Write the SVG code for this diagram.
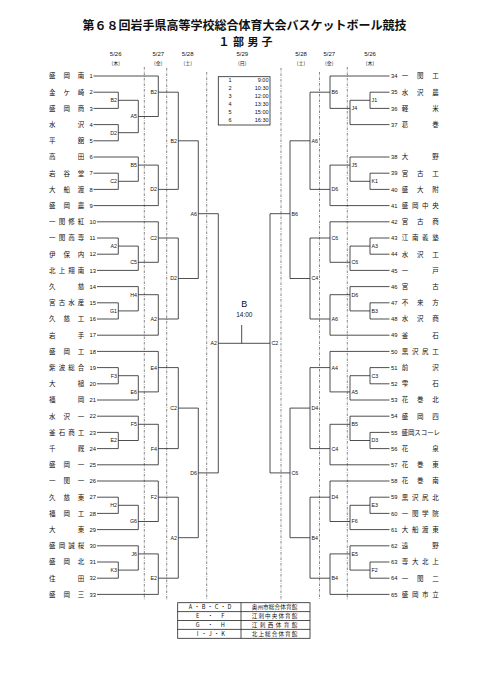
<svg xmlns="http://www.w3.org/2000/svg" width="481" height="680" viewBox="0 0 481 680">
<style>
.ln{fill:none;stroke:#222;stroke-width:0.8}
.dd{fill:none;stroke:#333;stroke-width:0.6;stroke-dasharray:2.5 1.2 0.6 1.2}
.bx{fill:#fff;stroke:#222;stroke-width:0.8}
text{font-family:'Liberation Sans','Noto Sans CJK JP',sans-serif;fill:#111}
.ti{font-family:'Noto Sans CJK JP',sans-serif;font-weight:bold;font-size:12px;text-anchor:middle}
.st{font-family:'Noto Sans CJK JP',sans-serif;font-weight:bold;font-size:11px;text-anchor:middle}
.dt{font-size:6px;text-anchor:middle}
.dw{font-size:5px;text-anchor:middle;font-family:'Noto Sans CJK JP',sans-serif}
.tn{font-size:6.5px;text-anchor:middle;font-family:'Noto Sans CJK JP',sans-serif}
.no{font-size:5.8px}
.lb{font-size:5.3px}
.le{text-anchor:end}
.sc{font-size:5.5px}
.lg{font-size:5.6px;text-anchor:middle;font-family:'Noto Sans CJK JP',sans-serif}
</style>

<g id="header">
<text class="ti" x="244.5" y="29.5" textLength="324" lengthAdjust="spacingAndGlyphs">第６８回岩手県高等学校総合体育大会バスケットボール競技</text>
<text class="st" x="224 238.5 253 267" y="45.5">１部男子</text>
<text class="dt" x="115.7" y="55.5">5/26</text><text class="dw" x="115.7" y="65.3">(木)</text>
<text class="dt" x="158.3" y="55.5">5/27</text><text class="dw" x="158.3" y="65.3">(金)</text>
<text class="dt" x="187.7" y="55.5">5/28</text><text class="dw" x="187.7" y="65.3">(土)</text>
<text class="dt" x="242.3" y="55.5">5/29</text><text class="dw" x="242.3" y="65.3">(日)</text>
<text class="dt" x="301" y="55.5">5/28</text><text class="dw" x="301" y="65.3">(土)</text>
<text class="dt" x="329.3" y="55.5">5/27</text><text class="dw" x="329.3" y="65.3">(金)</text>
<text class="dt" x="370" y="55.5">5/26</text><text class="dw" x="370" y="65.3">(木)</text>
</g>

<g id="day-dividers">
<path class="dd" d="M144.3 67V600M166.7 68V600M206.7 72V600M281 68V600M319.5 72V600M347.3 67V600"/>
</g>

<g id="schedule">
<rect class="bx" x="218.3" y="76.7" width="51.7" height="48.3"/>
<g class="sc">
<text x="230" y="82" text-anchor="middle">1</text><text x="268.5" y="82" text-anchor="end">9:00</text>
<text x="230" y="90" text-anchor="middle">2</text><text x="268.5" y="90" text-anchor="end">10:30</text>
<text x="230" y="98" text-anchor="middle">3</text><text x="268.5" y="98" text-anchor="end">12:00</text>
<text x="230" y="106" text-anchor="middle">4</text><text x="268.5" y="106" text-anchor="end">13:30</text>
<text x="230" y="114" text-anchor="middle">5</text><text x="268.5" y="114" text-anchor="end">15:00</text>
<text x="230" y="122" text-anchor="middle">6</text><text x="268.5" y="122" text-anchor="end">16:30</text>
</g>
</g>

<g id="final">
<text x="244.3" y="306.5" font-size="9" text-anchor="middle">B</text>
<text x="244.3" y="316.5" font-size="6.5" text-anchor="middle">14:00</text>
</g>

<g id="connectors">
<path class="ln" d="M93.5 76H158.3M93.5 92.2H118.3M93.5 108.4H118.3M93.5 124.6H118.3M93.5 140.8H118.3M93.5 157H138.3M93.5 173.2H118.3M93.5 189.4H118.3M93.5 205.6H158.3M97 221.8H158.3M97 238H118.3M97 254.2H118.3M97 270.4H138.3M97 286.6H138.3M97 302.8H118.3M97 319H118.3M97 335.2H158.3M97 351.4H158.3M97 367.6H118.3M97 383.8H118.3M97 400H138.3M97 416.2H138.3M97 432.4H118.3M97 448.6H118.3M97 464.8H158.3M97 481H158.3M97 497.2H118.3M97 513.4H118.3M97 529.6H138.3M97 545.8H138.3M97 562H118.3M97 578.2H118.3M97 594.4H158.3"/>
<path class="ln" d="M330 76H389.5M370 92.2H389.5M370 108.4H389.5M350 124.6H389.5M350 157H389.5M370 173.2H389.5M370 189.4H389.5M330 205.6H389.5M330 221.8H389.5M370 238H389.5M370 254.2H389.5M350 270.4H389.5M350 286.6H389.5M370 302.8H389.5M370 319H389.5M330 335.2H389.5M330 351.4H389.5M370 367.6H389.5M370 383.8H389.5M350 400H389.5M350 416.2H389.5M370 432.4H389.5M370 448.6H389.5M330 464.8H389.5M330 481H389.5M370 497.2H389.5M370 513.4H389.5M350 529.6H389.5M350 545.8H389.5M370 562H389.5M370 578.2H389.5M330 594.4H389.5"/>
<path class="ln" d="M118.3 92.2V108.4M118.3 100.3H138.3M118.3 124.6V140.8M118.3 132.7H138.3M118.3 173.2V189.4M118.3 181.3H138.3M118.3 238V254.2M118.3 246.1H138.3M118.3 302.8V319M118.3 310.9H138.3M118.3 367.6V383.8M118.3 375.7H138.3M118.3 432.4V448.6M118.3 440.5H138.3M118.3 497.2V513.4M118.3 505.3H138.3M118.3 562V578.2M118.3 570.1H138.3"/>
<path class="ln" d="M138.3 100.3V132.7M138.3 116.5H158.3M138.3 157V181.3M138.3 165.1H158.3M138.3 246.1V270.4M138.3 262.3H158.3M138.3 286.6V310.9M138.3 294.7H158.3M138.3 375.7V400M138.3 391.9H158.3M138.3 416.2V440.5M138.3 424.3H158.3M138.3 505.3V529.6M138.3 521.5H158.3M138.3 545.8V570.1M138.3 553.9H158.3"/>
<path class="ln" d="M158.3 76V116.5M158.3 92.2H178.3M158.3 165.1V205.6M158.3 189.4H178.3M158.3 221.8V262.3M158.3 238H178.3M158.3 294.7V335.2M158.3 319H178.3M158.3 351.4V391.9M158.3 367.6H178.3M158.3 424.3V464.8M158.3 448.6H178.3M158.3 481V521.5M158.3 497.2H178.3M158.3 553.9V594.4M158.3 578.2H178.3"/>
<path class="ln" d="M178.3 92.2V189.4M178.3 140.8H198.3M178.3 238V319M178.3 278.5H198.3M178.3 367.6V448.6M178.3 408.1H198.3M178.3 497.2V578.2M178.3 537.7H198.3"/>
<path class="ln" d="M198.3 140.8V278.5M198.3 213.7H218.3M198.3 408.1V537.7M198.3 472.9H218.3M218.3 213.7V472.9M218.3 343.3H270M241.7 325V343.3"/>
<path class="ln" d="M370 92.2V108.4M370 100.3H350M370 173.2V189.4M370 181.3H350M370 238V254.2M370 246.1H350M370 302.8V319M370 310.9H350M370 367.6V383.8M370 375.7H350M370 432.4V448.6M370 440.5H350M370 497.2V513.4M370 505.3H350M370 562V578.2M370 570.1H350"/>
<path class="ln" d="M350 100.3V124.6M350 108.4H330M350 157V181.3M350 165.1H330M350 246.1V270.4M350 262.3H330M350 286.6V310.9M350 294.7H330M350 375.7V400M350 391.9H330M350 416.2V440.5M350 424.3H330M350 505.3V529.6M350 521.5H330M350 545.8V570.1M350 553.9H330"/>
<path class="ln" d="M330 76V108.4M330 92.2H310M330 165.1V205.6M330 189.4H310M330 221.8V262.3M330 238H310M330 294.7V335.2M330 319H310M330 351.4V391.9M330 367.6H310M330 424.3V464.8M330 448.6H310M330 481V521.5M330 497.2H310M330 553.9V594.4M330 578.2H310"/>
<path class="ln" d="M310 92.2V189.4M310 140.8H290M310 238V319M310 278.5H290M310 367.6V448.6M310 408.1H290M310 497.2V578.2M310 537.7H290"/>
<path class="ln" d="M290 140.8V278.5M290 213.7H270M290 408.1V537.7M290 472.9H270M270 213.7V472.9"/>
</g>

<g id="match-labels-left" class="lb le">
<g id="mL1"><text x="117" y="102.2">B2</text><text x="117" y="134.6">D2</text><text x="117" y="183.2">C2</text><text x="117" y="248">A2</text><text x="117" y="312.8">G1</text><text x="117" y="377.6">F3</text><text x="117" y="442.4">E2</text><text x="117" y="507.2">H2</text><text x="117" y="572">K3</text></g>
<g id="mL2"><text x="137" y="118.4">A5</text><text x="137" y="167">B5</text><text x="137" y="264.2">C5</text><text x="137" y="296.6">H4</text><text x="137" y="393.8">E6</text><text x="137" y="426.2">F5</text><text x="137" y="523.4">G6</text><text x="137" y="555.8">J6</text></g>
<g id="mL3"><text x="157" y="94.1">B2</text><text x="157" y="191.3">D2</text><text x="157" y="239.9">C2</text><text x="157" y="320.9">A2</text><text x="157" y="369.5">E4</text><text x="157" y="450.5">F4</text><text x="157" y="499.1">F2</text><text x="157" y="580.1">E2</text></g>
<g id="mL4"><text x="177" y="142.7">B2</text><text x="177" y="280.4">D2</text><text x="177" y="410">C2</text><text x="177" y="539.6">A2</text></g>
<g id="mL5"><text x="197" y="215.6">A6</text><text x="197" y="474.8">D6</text></g>
<g id="mL6"><text x="217" y="345.2">A2</text></g>
</g>

<g id="match-labels-right" class="lb">
<g id="mR1"><text x="371.5" y="102.2">J1</text><text x="371.5" y="183.2">K1</text><text x="371.5" y="248">A3</text><text x="371.5" y="312.8">B3</text><text x="371.5" y="377.6">C3</text><text x="371.5" y="442.4">D3</text><text x="371.5" y="507.2">E3</text><text x="371.5" y="572">F2</text></g>
<g id="mR2"><text x="351.5" y="110.3">J4</text><text x="351.5" y="167">J5</text><text x="351.5" y="264.2">C6</text><text x="351.5" y="296.6">D6</text><text x="351.5" y="393.8">A5</text><text x="351.5" y="426.2">B5</text><text x="351.5" y="523.4">F6</text><text x="351.5" y="555.8">E5</text></g>
<g id="mR3"><text x="331.5" y="94.1">B6</text><text x="331.5" y="191.3">D6</text><text x="331.5" y="239.9">C6</text><text x="331.5" y="320.9">A6</text><text x="331.5" y="369.5">A4</text><text x="331.5" y="450.5">C4</text><text x="331.5" y="499.1">D4</text><text x="331.5" y="580.1">B4</text></g>
<g id="mR4"><text x="311.5" y="142.7">A6</text><text x="311.5" y="280.4">C4</text><text x="311.5" y="410">D4</text><text x="311.5" y="539.6">B4</text></g>
<g id="mR5"><text x="291.5" y="215.6">B6</text><text x="291.5" y="474.8">C6</text></g>
<g id="mR6"><text x="271.5" y="345.2">C2</text></g>
</g>

<g id="teams-left">
<g id="t1"><text class="tn" x="52.3 66.7 81" y="78.3">盛岡南</text><text class="no" x="89.5" y="78.1">1</text></g>
<g id="t2"><text class="tn" x="52.3 66.7 81" y="94.5">金ケ崎</text><text class="no" x="89.5" y="94.3">2</text></g>
<g id="t3"><text class="tn" x="52.3 66.7 81" y="110.7">盛岡商</text><text class="no" x="89.5" y="110.5">3</text></g>
<g id="t4"><text class="tn" x="52.3 81" y="126.9">水沢</text><text class="no" x="89.5" y="126.7">4</text></g>
<g id="t5"><text class="tn" x="52.3 81" y="143.1">平舘</text><text class="no" x="89.5" y="142.9">5</text></g>
<g id="t6"><text class="tn" x="52.3 81" y="159.3">高田</text><text class="no" x="89.5" y="159.1">6</text></g>
<g id="t7"><text class="tn" x="52.3 66.7 81" y="175.5">岩谷堂</text><text class="no" x="89.5" y="175.3">7</text></g>
<g id="t8"><text class="tn" x="52.3 66.7 81" y="191.7">大船渡</text><text class="no" x="89.5" y="191.5">8</text></g>
<g id="t9"><text class="tn" x="52.3 66.7 81" y="207.9">盛岡農</text><text class="no" x="89.5" y="207.7">9</text></g>
<g id="t10"><text class="tn" x="52.3 61.9 71.4 81" y="224.1">一関修紅</text><text class="no" x="89.5" y="223.9">10</text></g>
<g id="t11"><text class="tn" x="52.3 61.9 71.4 81" y="240.3">一関高専</text><text class="no" x="89.5" y="240.1">11</text></g>
<g id="t12"><text class="tn" x="52.3 66.7 81" y="256.5">伊保内</text><text class="no" x="89.5" y="256.3">12</text></g>
<g id="t13"><text class="tn" x="52.3 61.9 71.4 81" y="272.7">北上翔南</text><text class="no" x="89.5" y="272.5">13</text></g>
<g id="t14"><text class="tn" x="52.3 81" y="288.9">久慈</text><text class="no" x="89.5" y="288.7">14</text></g>
<g id="t15"><text class="tn" x="52.3 61.9 71.4 81" y="305.1">宮古水産</text><text class="no" x="89.5" y="304.9">15</text></g>
<g id="t16"><text class="tn" x="52.3 66.7 81" y="321.3">久慈工</text><text class="no" x="89.5" y="321.1">16</text></g>
<g id="t17"><text class="tn" x="52.3 81" y="337.5">岩手</text><text class="no" x="89.5" y="337.3">17</text></g>
<g id="t18"><text class="tn" x="52.3 66.7 81" y="353.7">盛岡工</text><text class="no" x="89.5" y="353.5">18</text></g>
<g id="t19"><text class="tn" x="52.3 61.9 71.4 81" y="369.9">紫波総合</text><text class="no" x="89.5" y="369.7">19</text></g>
<g id="t20"><text class="tn" x="52.3 81" y="386.1">大槌</text><text class="no" x="89.5" y="385.9">20</text></g>
<g id="t21"><text class="tn" x="52.3 81" y="402.3">福岡</text><text class="no" x="89.5" y="402.1">21</text></g>
<g id="t22"><text class="tn" x="52.3 66.7 81" y="418.5">水沢一</text><text class="no" x="89.5" y="418.3">22</text></g>
<g id="t23"><text class="tn" x="52.3 61.9 71.4 81" y="434.7">釜石商工</text><text class="no" x="89.5" y="434.5">23</text></g>
<g id="t24"><text class="tn" x="52.3 81" y="450.9">千厩</text><text class="no" x="89.5" y="450.7">24</text></g>
<g id="t25"><text class="tn" x="52.3 66.7 81" y="467.1">盛岡一</text><text class="no" x="89.5" y="466.9">25</text></g>
<g id="t26"><text class="tn" x="52.3 66.7 81" y="483.3">一関一</text><text class="no" x="89.5" y="483.1">26</text></g>
<g id="t27"><text class="tn" x="52.3 66.7 81" y="499.5">久慈東</text><text class="no" x="89.5" y="499.3">27</text></g>
<g id="t28"><text class="tn" x="52.3 66.7 81" y="515.7">福岡工</text><text class="no" x="89.5" y="515.5">28</text></g>
<g id="t29"><text class="tn" x="52.3 81" y="531.9">大東</text><text class="no" x="89.5" y="531.7">29</text></g>
<g id="t30"><text class="tn" x="52.3 61.9 71.4 81" y="548.1">盛岡誠桜</text><text class="no" x="89.5" y="547.9">30</text></g>
<g id="t31"><text class="tn" x="52.3 66.7 81" y="564.3">盛岡北</text><text class="no" x="89.5" y="564.1">31</text></g>
<g id="t32"><text class="tn" x="52.3 81" y="580.5">住田</text><text class="no" x="89.5" y="580.3">32</text></g>
<g id="t33"><text class="tn" x="52.3 66.7 81" y="596.7">盛岡三</text><text class="no" x="89.5" y="596.5">33</text></g>
</g>

<g id="teams-right">
<g id="t34"><text class="no" x="391" y="78.1">34</text><text class="tn" x="405 420.2 435.5" y="78.3">一関工</text></g>
<g id="t35"><text class="no" x="391" y="94.3">35</text><text class="tn" x="405 420.2 435.5" y="94.5">水沢農</text></g>
<g id="t36"><text class="no" x="391" y="110.5">36</text><text class="tn" x="405 435.5" y="110.7">軽米</text></g>
<g id="t37"><text class="no" x="391" y="126.7">37</text><text class="tn" x="405 435.5" y="126.9">葛巻</text></g>
<g id="t38"><text class="no" x="391" y="159.1">38</text><text class="tn" x="405 435.5" y="159.3">大野</text></g>
<g id="t39"><text class="no" x="391" y="175.3">39</text><text class="tn" x="405 420.2 435.5" y="175.5">宮古工</text></g>
<g id="t40"><text class="no" x="391" y="191.5">40</text><text class="tn" x="405 420.2 435.5" y="191.7">盛大附</text></g>
<g id="t41"><text class="no" x="391" y="207.7">41</text><text class="tn" x="405 415.2 425.3 435.5" y="207.9">盛岡中央</text></g>
<g id="t42"><text class="no" x="391" y="223.9">42</text><text class="tn" x="405 420.2 435.5" y="224.1">宮古商</text></g>
<g id="t43"><text class="no" x="391" y="240.1">43</text><text class="tn" x="405 415.2 425.3 435.5" y="240.3">江南義塾</text></g>
<g id="t44"><text class="no" x="391" y="256.3">44</text><text class="tn" x="405 420.2 435.5" y="256.5">水沢工</text></g>
<g id="t45"><text class="no" x="391" y="272.5">45</text><text class="tn" x="405 435.5" y="272.7">一戸</text></g>
<g id="t46"><text class="no" x="391" y="288.7">46</text><text class="tn" x="405 435.5" y="288.9">宮古</text></g>
<g id="t47"><text class="no" x="391" y="304.9">47</text><text class="tn" x="405 420.2 435.5" y="305.1">不来方</text></g>
<g id="t48"><text class="no" x="391" y="321.1">48</text><text class="tn" x="405 420.2 435.5" y="321.3">水沢商</text></g>
<g id="t49"><text class="no" x="391" y="337.3">49</text><text class="tn" x="405 435.5" y="337.5">釜石</text></g>
<g id="t50"><text class="no" x="391" y="353.5">50</text><text class="tn" x="405 415.2 425.3 435.5" y="353.7">黒沢尻工</text></g>
<g id="t51"><text class="no" x="391" y="369.7">51</text><text class="tn" x="405 435.5" y="369.9">前沢</text></g>
<g id="t52"><text class="no" x="391" y="385.9">52</text><text class="tn" x="405 435.5" y="386.1">雫石</text></g>
<g id="t53"><text class="no" x="391" y="402.1">53</text><text class="tn" x="405 420.2 435.5" y="402.3">花巻北</text></g>
<g id="t54"><text class="no" x="391" y="418.3">54</text><text class="tn" x="405 420.2 435.5" y="418.5">盛岡四</text></g>
<g id="t55"><text class="no" x="391" y="434.5">55</text><text class="tn" x="401.5" y="434.7" text-anchor="start" textLength="38.5" lengthAdjust="spacingAndGlyphs" style="text-anchor:start">盛岡スコーレ</text></g>
<g id="t56"><text class="no" x="391" y="450.7">56</text><text class="tn" x="405 435.5" y="450.9">花泉</text></g>
<g id="t57"><text class="no" x="391" y="466.9">57</text><text class="tn" x="405 420.2 435.5" y="467.1">花巻東</text></g>
<g id="t58"><text class="no" x="391" y="483.1">58</text><text class="tn" x="405 420.2 435.5" y="483.3">花巻南</text></g>
<g id="t59"><text class="no" x="391" y="499.3">59</text><text class="tn" x="405 415.2 425.3 435.5" y="499.5">黒沢尻北</text></g>
<g id="t60"><text class="no" x="391" y="515.5">60</text><text class="tn" x="405 415.2 425.3 435.5" y="515.7">一関学院</text></g>
<g id="t61"><text class="no" x="391" y="531.7">61</text><text class="tn" x="405 415.2 425.3 435.5" y="531.9">大船渡東</text></g>
<g id="t62"><text class="no" x="391" y="547.9">62</text><text class="tn" x="405 435.5" y="548.1">遠野</text></g>
<g id="t63"><text class="no" x="391" y="564.1">63</text><text class="tn" x="405 415.2 425.3 435.5" y="564.3">専大北上</text></g>
<g id="t64"><text class="no" x="391" y="580.3">64</text><text class="tn" x="405 420.2 435.5" y="580.5">一関二</text></g>
<g id="t65"><text class="no" x="391" y="596.5">65</text><text class="tn" x="405 415.2 425.3 435.5" y="596.7">盛岡市立</text></g>
</g>

<g id="venue-table">
<rect class="bx" x="177.7" y="602.7" width="132.3" height="35.6"/>
<path class="ln" d="M177.7 611.6H310M177.7 620.5H310M177.7 629.4H310M241 602.7V638.3"/>
<text class="lg" x="190.5 197 203.5 210 216.5 223 229.5" y="609.2">A・B・C・D</text>
<text class="lg" x="254.5 260.2 265.9 271.6 277.4 283.1 288.8 294.5" y="609.2">奥州市総合体育館</text>
<text class="lg" x="197.7 210.2 222.7" y="618.1">E・F</text>
<text class="lg" x="254.5 261.2 267.8 274.5 281.2 287.8 294.5" y="618.1">江刺中央体育館</text>
<text class="lg" x="197.7 210.2 222.7" y="627">G・H</text>
<text class="lg" x="254.5 262.5 270.5 278.5 286.5 294.5" y="627">江刺西体育館</text>
<text class="lg" x="197.5 204 210.2 216.5 223" y="635.9">I・J・K</text>
<text class="lg" x="254.5 261.2 267.8 274.5 281.2 287.8 294.5" y="635.9">北上総合体育館</text>
</g>
</svg>
